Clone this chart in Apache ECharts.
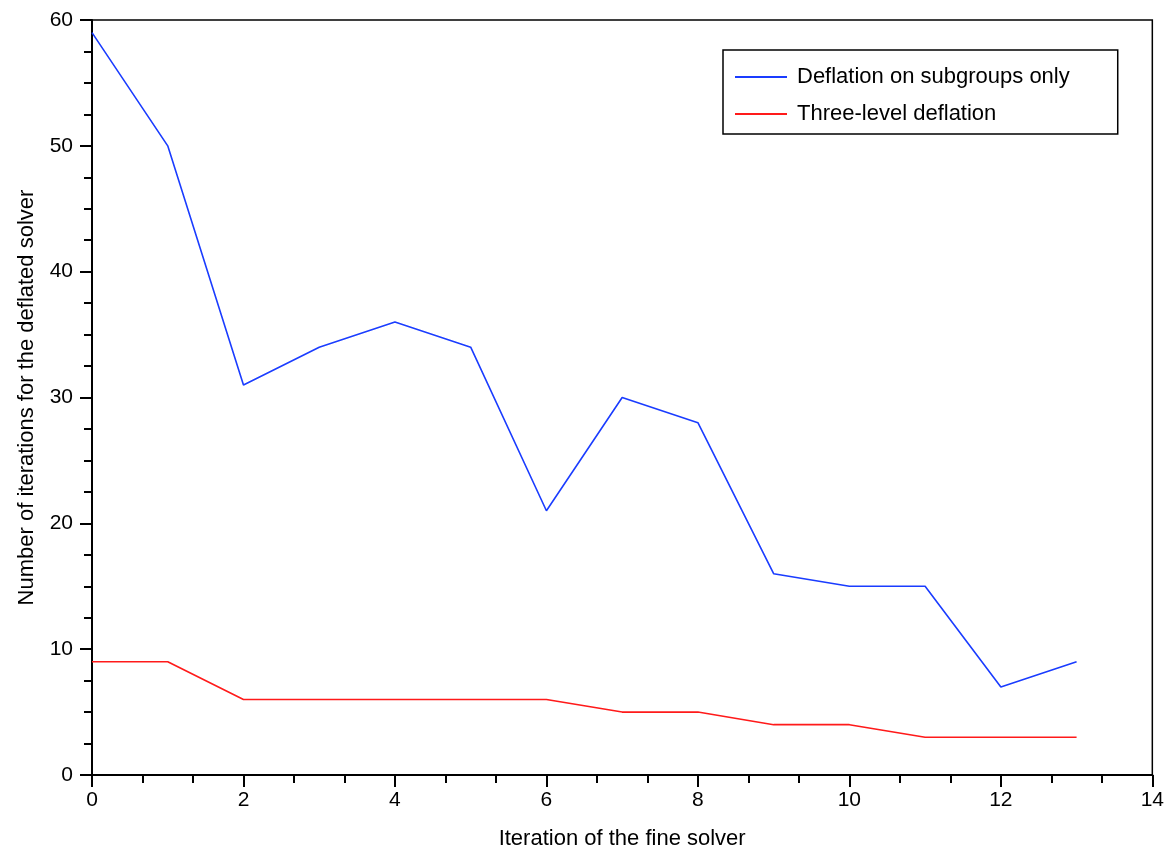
<!DOCTYPE html>
<html>
<head>
<meta charset="utf-8">
<script src="https://cdn.jsdelivr.net/npm/echarts@6/dist/echarts.min.js"></script>
<style>html,body{margin:0;padding:0;background:#fff}#c{width:1167px;height:855px}</style>
</head>
<body>
<div id="c"></div>
<script>
const iterations = [0,1,2,3,4,5,6,7,8,9,10,11,12,13];
const subgroupsOnly = [59,50,31,34,36,34,21,30,28,16,15,15,7,9];
const threeLevel = [9,9,6,6,6,6,6,5,5,4,4,3,3,3];
const seriesNames = ['Deflation on subgroups only','Three-level deflation'];
const xName = 'Iteration of the fine solver';
const yName = 'Number of iterations for the deflated solver';

const font = 'Liberation Sans, Arial, sans-serif';
const chart = echarts.init(document.getElementById('c'));
chart.setOption({
  animation: false,
  backgroundColor: '#fff',
  grid: {left: 92, right: 12, top: 20, bottom: 78, show: true, borderColor: '#000', borderWidth: 1.5, backgroundColor: 'transparent'},
  legend: {
    orient: 'vertical', left: 723, top: 50,
    data: seriesNames,
    icon: 'rect', itemWidth: 52, itemHeight: 2, itemGap: 15,
    padding: [16, 48, 9, 12],
    borderColor: '#000', borderWidth: 1.5,
    textStyle: {fontFamily: font, fontSize: 22, color: '#000', padding: [0,0,0,5]}
  },
  xAxis: {
    type: 'value', min: 0, max: 14, interval: 2,
    name: xName, nameLocation: 'middle', nameGap: 53,
    nameTextStyle: {fontFamily: font, fontSize: 22, color: '#000'},
    axisLine: {lineStyle: {color: '#000', width: 2}},
    axisTick: {show: true, length: 12, lineStyle: {color: '#000', width: 2}},
    minorTick: {show: true, splitNumber: 3, length: 8, lineStyle: {color: '#000', width: 2}},
    axisLabel: {fontFamily: font, fontSize: 21, color: '#000', margin: 15},
    splitLine: {show: false}
  },
  yAxis: {
    type: 'value', min: 0, max: 60, interval: 10,
    name: yName, nameLocation: 'middle', nameGap: 54, nameRotate: 90,
    nameTextStyle: {fontFamily: font, fontSize: 22, color: '#000'},
    axisLine: {lineStyle: {color: '#000', width: 2}},
    axisTick: {show: true, length: 12, lineStyle: {color: '#000', width: 2}},
    minorTick: {show: true, splitNumber: 4, length: 8, lineStyle: {color: '#000', width: 2}},
    axisLabel: {fontFamily: font, fontSize: 21, color: '#000', margin: 19},
    splitLine: {show: false}
  },
  series: [
    {name: seriesNames[0], type: 'line', symbol: 'none', color: '#1a3cff',
     lineStyle: {width: 1.6, color: '#1a3cff'},
     data: iterations.map((x, i) => [x, subgroupsOnly[i]])},
    {name: seriesNames[1], type: 'line', symbol: 'none', color: '#ff1a1a',
     lineStyle: {width: 1.6, color: '#ff1a1a'},
     data: iterations.map((x, i) => [x, threeLevel[i]])}
  ]
});
</script>
</body>
</html>
